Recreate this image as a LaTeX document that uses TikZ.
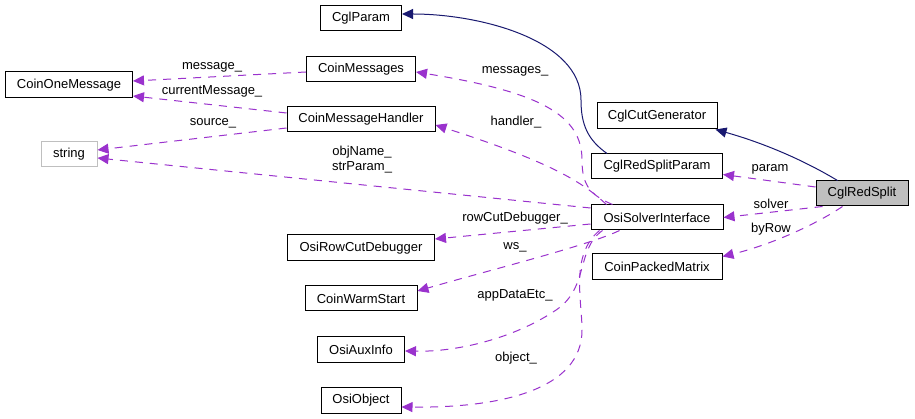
\documentclass[tikz,border=0pt]{standalone}
\usepackage{fontspec}
\setmainfont{Liberation Sans}
\usetikzlibrary{arrows.meta}
\definecolor{edgepurple}{HTML}{9A32CD}
\definecolor{edgenavy}{HTML}{191970}
\definecolor{boxgray}{HTML}{BFBFBF}
\begin{document}
\begin{tikzpicture}[x=1pt,y=-1pt,
  every node/.style={font=\fontsize{13}{15}\selectfont},
  cls/.style={draw=black, line width=1pt, fill=white, inner sep=0pt, anchor=center},
  lbl/.style={inner sep=0pt, anchor=center, align=center},
  uses/.style={draw=edgepurple, line width=1pt, dash pattern=on 8pt off 7pt, -{Triangle[length=11pt,width=10pt]}},
  inherit/.style={draw=edgenavy, line width=1pt, -{Triangle[length=11pt,width=10pt]}}
]
\useasboundingbox (0,0) rectangle (915,419);
\fill[white] (0,0) rectangle (915,419);

% nodes
\node[cls, minimum width=81pt, minimum height=25pt] (cglparam) at (361,18.5) {CglParam};
\node[cls, minimum width=109pt, minimum height=25pt] (coinmsgs) at (361,69.5) {CoinMessages};
\node[cls, minimum width=127pt, minimum height=26pt] (com) at (69,85) {CoinOneMessage};
\node[cls, minimum width=148pt, minimum height=25pt] (handler) at (361,119.5) {CoinMessageHandler};
\node[cls, draw=boxgray, minimum width=56pt, minimum height=25pt] (string) at (69,154) {string};
\node[cls, minimum width=120pt, minimum height=26pt] (cutgen) at (657,116) {CglCutGenerator};
\node[cls, minimum width=131pt, minimum height=25pt] (crsp) at (657,166.5) {CglRedSplitParam};
\node[cls, fill=boxgray, minimum width=92pt, minimum height=25pt] (crs) at (862,193.5) {CglRedSplit};
\node[cls, minimum width=132pt, minimum height=25pt] (osi) at (657,217.5) {OsiSolverInterface};
\node[cls, minimum width=130pt, minimum height=26pt] (cpm) at (657,267) {CoinPackedMatrix};
\node[cls, minimum width=147pt, minimum height=26pt] (rcd) at (361,248) {OsiRowCutDebugger};
\node[cls, minimum width=112pt, minimum height=25pt] (cws) at (361,298.5) {CoinWarmStart};
\node[cls, minimum width=87pt, minimum height=25pt] (aux) at (361,349.5) {OsiAuxInfo};
\node[cls, minimum width=80pt, minimum height=26pt] (obj) at (361,400) {OsiObject};

% inheritance edges
\draw[inherit] ([xshift=22pt]crs.north west) .. controls (800,158) and (760,142) .. ([xshift=-2pt]cutgen.south east);
\draw[inherit] ([xshift=16pt]crsp.north west) .. controls (588,140) and (581,125) .. (581,100) .. controls (581,40) and (480,14) .. ([yshift=4.5pt]cglparam.east);

% usage edges
\draw[uses] ([yshift=6.5pt]crs.west) -- ([yshift=-8pt]crsp.east);
\draw[uses] ([xshift=7pt]crs.south west) -- (osi.east);
\draw[uses] ([xshift=27pt]crs.south west) .. controls (815,225) and (770,245) .. ([yshift=-3pt]cpm.north east);
\draw[uses] ([xshift=22pt]osi.north west) .. controls (590,195) and (582,185) .. (582,160) .. controls (582,115) and (540,92) .. ([yshift=-2.5pt]coinmsgs.east);
\draw[uses] ([xshift=16pt]osi.north west) .. controls (585,185) and (560,165) .. ([yshift=-5.5pt]handler.east);
\draw[uses] ([yshift=9.5pt]osi.west) -- ([yshift=-4pt]string.east);
\draw[uses] ([yshift=-6.5pt]osi.west) -- ([yshift=9pt]rcd.east);
\draw[uses] ([xshift=29pt]osi.south west) .. controls (590,245) and (490,270) .. ([yshift=7.5pt]cws.east);
\draw[uses] ([xshift=12pt]osi.south west) .. controls (575,250) and (590,290) .. (553,312) .. controls (515,337) and (460,352) .. ([yshift=-1.5pt]aux.east);
\draw[uses] ([xshift=9pt]osi.south west) .. controls (570,255) and (582,300) .. (582,330) .. controls (582,390) and (500,408) .. ([yshift=-7pt]obj.east);
\draw[uses] ([yshift=-2.5pt]coinmsgs.west) -- ([yshift=4pt]com.east);
\draw[uses] ([yshift=6.5pt]handler.west) -- ([yshift=-11pt]com.east);
\draw[uses] ([yshift=-8.5pt]handler.west) -- ([yshift=4pt]string.east);

% labels
\node[lbl] (lmessage) at (212,67) {message\_};
\node[lbl] (lcurrent) at (212,91) {currentMessage\_};
\node[lbl] (lsource) at (213,123) {source\_};
\node[lbl] (lmessages) at (515,71) {messages\_};
\node[lbl] (lhandler) at (516,122) {handler\_};
\node[lbl] (lobjname) at (362,160) {objName\_\\strParam\_};
\node[lbl] (lparam) at (770,169) {param};
\node[lbl] (lsolver) at (771,204) {solver};
\node[lbl] (lbyrow) at (771,229) {byRow};
\node[lbl] (lrcd) at (515,218) {rowCutDebugger\_};
\node[lbl] (lws) at (515,247) {ws\_};
\node[lbl] (lapp) at (515,295) {appDataEtc\_};
\node[lbl] (lobject) at (516,358) {object\_};
\end{tikzpicture}
\end{document}
